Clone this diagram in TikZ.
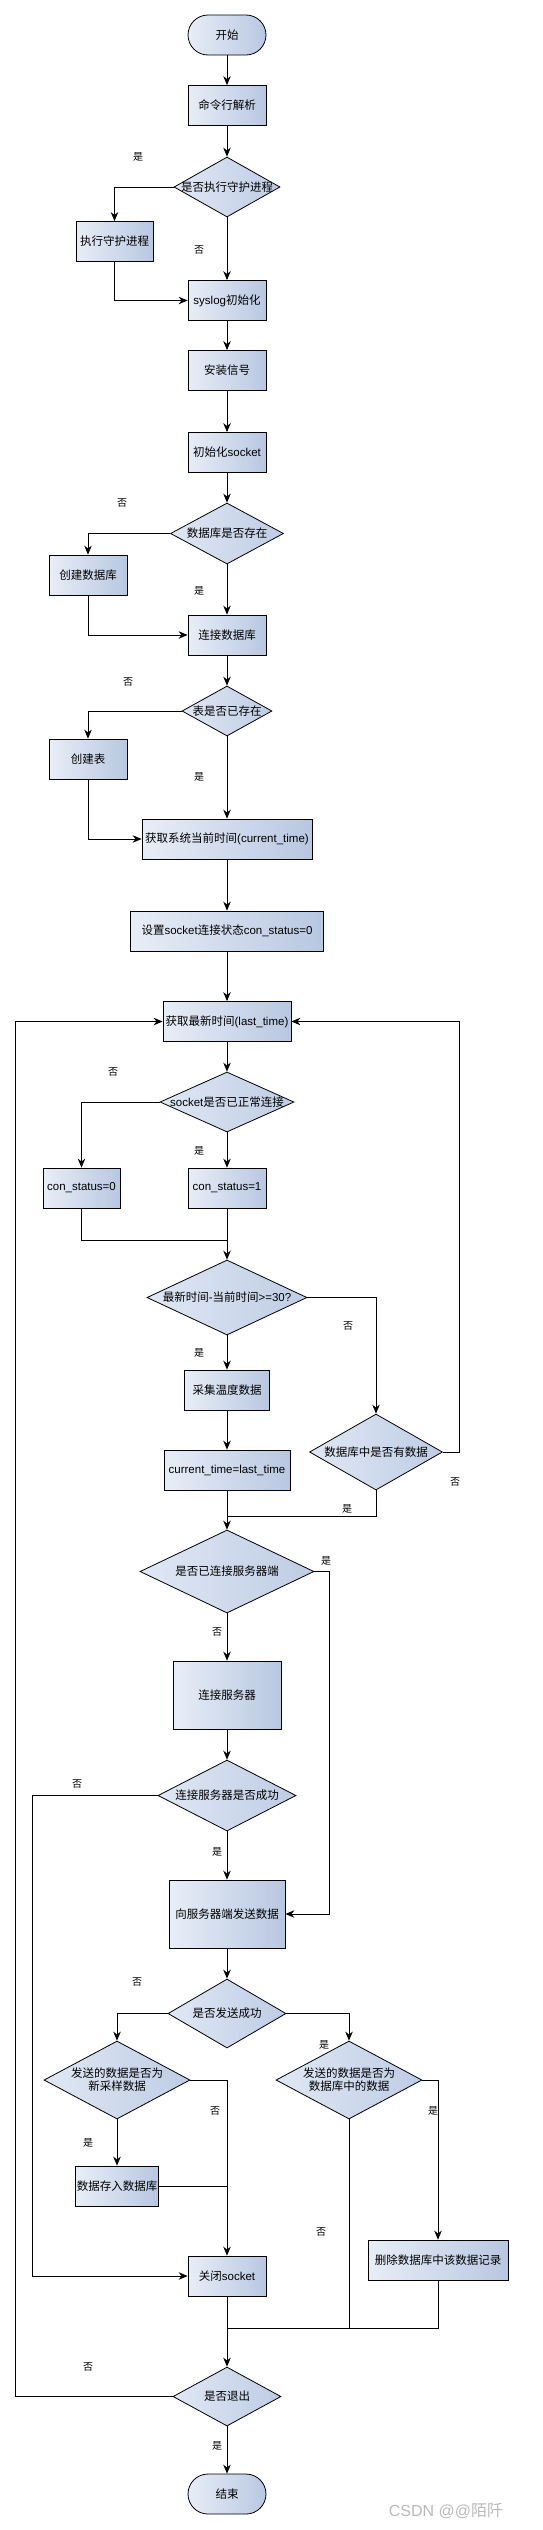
\documentclass[tikz,border=0pt]{standalone}
\usepackage{fontspec}
\setmainfont{Noto Sans CJK SC}
\newfontfamily\arialfont{Liberation Sans}
\newcommand\en[1]{{\arialfont #1}}
\usepackage{tikz}
\usetikzlibrary{arrows.meta,shapes.geometric}
\definecolor{boxl}{RGB}{232,238,247}
\definecolor{boxr}{RGB}{184,199,225}
\definecolor{decl}{RGB}{224,232,244}
\definecolor{decr}{RGB}{190,204,228}
\tikzset{
	proc/.style={draw, rectangle, left color=boxl, right color=boxr, minimum width=78, minimum height=40, inner sep=1pt},
	term/.style={proc, rounded corners=20},
	dec/.style={draw, diamond, left color=decl, right color=decr, inner sep=0pt},
	yn/.style={font=\fontsize{10}{12}\selectfont},
	arr/.style={-{Stealth[length=9pt,width=7.5pt]}}
}

\begin{document}
\begin{tikzpicture}[x=1pt, y=-1pt, line width=0.8pt, font=\fontsize{11.5}{13}\selectfont]
		%%%%% START %%%%%
		\useasboundingbox (0,0) rectangle (542,2530);
		
		\node[term] (start) at (227,35) {开始};
		\node[proc] (parse) at (227,105.5) {命令行解析};
		\node[dec, minimum width=106, minimum height=60, label=center:是否执行守护进程] (daemonq) at (227,187) {};
		\node[proc, minimum width=77] (daemon) at (114.5,241.5) {执行守护进程};
		\node[proc] (syslog) at (227,300.5) {\en{syslog}初始化};
		\node[proc] (signal) at (227,370.5) {安装信号};
		\node[proc] (sockinit) at (227,452.5) {初始化\en{socket}};
		
		\node[dec, minimum width=113, minimum height=61, label=center:数据库是否存在] (dbq) at (227,533.5) {};
		\node[proc] (mkdb) at (88,575) {创建数据库};
		\node[proc] (conndb) at (227,635) {连接数据库};
		\node[dec, minimum width=90, minimum height=50, label=center:表是否已存在] (tblq) at (227,711) {};
		\node[proc] (mktbl) at (88,759) {创建表};
		\node[proc, minimum width=170] (curtime) at (227,839) {获取系统当前时间\en{(current\_time)}};
		\node[proc, minimum width=193] (setstat) at (227,931) {设置\en{socket}连接状态\en{con\_status=0}};
		
		\node[proc, minimum width=128] (lasttime) at (227,1021.5) {获取最新时间\en{(last\_time)}};
		\node[dec, minimum width=134, minimum height=60, label={center:{\en{socket}是否已正常连接}}] (sockq) at (227,1102) {};
		\node[proc, minimum width=77] (st0) at (81.5,1188) {\en{con\_status=0}};
		\node[proc] (st1) at (227,1188) {\en{con\_status=1}};
		\node[dec, minimum width=160, minimum height=75, label={center:{最新时间\en{-}当前时间\en{>=30?}}}] (timeq) at (227,1297.5) {};
		\node[proc, minimum width=85] (collect) at (227,1390) {采集温度数据};
		\node[proc, minimum width=126] (update) at (227,1470) {\en{current\_time=last\_time}};
		\node[dec, minimum width=133, minimum height=76, label=center:数据库中是否有数据] (hasdb) at (376,1452) {};
		
		\node[dec, minimum width=174, minimum height=83, label=center:是否已连接服务器端] (srvq) at (227,1571.5) {};
		\node[proc, minimum width=108, minimum height=68] (connsrv) at (227,1695) {连接服务器};
		\node[dec, minimum width=138, minimum height=71, label=center:连接服务器是否成功] (okq) at (227,1795.5) {};
		\node[proc, minimum width=116, minimum height=68] (send) at (227,1914) {向服务器端发送数据};
		\node[dec, minimum width=118, minimum height=69, label=center:是否发送成功] (sentq) at (227,2013.5) {};
		\node[dec, minimum width=146, minimum height=78, label={[align=center]center:发送的数据是否为\\新采样数据}] (newq) at (117,2080) {};
		\node[dec, minimum width=146, minimum height=78, label={[align=center]center:发送的数据是否为\\数据库中的数据}] (oldq) at (349,2080) {};
		\node[proc] (store) at (117,2186) {数据存入数据库};
		\node[proc, minimum width=140] (delrec) at (438,2260) {删除数据库中该数据记录};
		\node[proc] (close) at (227,2276) {关闭\en{socket}};
		\node[dec, minimum width=108, minimum height=59, label=center:是否退出] (quitq) at (227,2396.5) {};
		\node[term] (stop) at (227,2494) {结束};
		
		\coordinate (j1) at (227,1240);
		\coordinate (j2) at (227,1516);
		\coordinate (j3) at (227,2328);
		\coordinate (rloop) at (459,1452);
		\coordinate (srvr) at (329,1571.5);
		\coordinate (okl) at (32,1795.5);
		\coordinate (lloop) at (15,2396.5);
		
		\draw[arr] (start) -- (parse);
		\draw[arr] (parse) -- (daemonq);
		\draw[arr] (daemonq.west) -| (daemon.north);
		\draw[arr] (daemonq) -- (syslog);
		\draw[arr] (daemon.south) |- (syslog.west);
		\draw[arr] (syslog) -- (signal);
		\draw[arr] (signal) -- (sockinit);
		\draw[arr] (sockinit) -- (dbq);
		\draw[arr] (dbq.west) -| (mkdb.north);
		\draw[arr] (dbq) -- (conndb);
		\draw[arr] (mkdb.south) |- (conndb.west);
		\draw[arr] (conndb) -- (tblq);
		\draw[arr] (tblq.west) -| (mktbl.north);
		\draw[arr] (tblq) -- (curtime);
		\draw[arr] (mktbl.south) |- (curtime.west);
		\draw[arr] (curtime) -- (setstat);
		\draw[arr] (setstat) -- (lasttime);
		
		\draw[arr] (lasttime) -- (sockq);
		\draw[arr] (sockq.west) -| (st0.north);
		\draw[arr] (sockq) -- (st1);
		\draw (st0.south) |- (j1);
		\draw[arr] (st1) -- (timeq);
		\draw[arr] (timeq.east) -| (hasdb.north);
		\draw[arr] (timeq) -- (collect);
		\draw[arr] (collect) -- (update);
		\draw[arr] (hasdb.east) -- (rloop) |- (lasttime.east);
		\draw (hasdb.south) |- (j2);
		\draw[arr] (update) -- (srvq);
		
		\draw[arr] (srvq.east) -- (srvr) |- (send.east);
		\draw[arr] (srvq) -- (connsrv);
		\draw[arr] (connsrv) -- (okq);
		\draw[arr] (okq) -- (send);
		\draw[arr] (okq.west) -- (okl) |- (close.west);
		\draw[arr] (send) -- (sentq);
		\draw[arr] (sentq.west) -| (newq.north);
		\draw[arr] (sentq.east) -| (oldq.north);
		\draw[arr] (newq) -- (store);
		\draw[arr] (newq.east) -| (close.north);
		\draw (store.east) -- (store.east -| close);
		\draw[arr] (oldq.east) -| (delrec.north);
		\draw (oldq.south) -- (oldq.south |- j3);
		\draw (delrec.south) |- (j3);
		\draw[arr] (close) -- (quitq);
		\draw[arr] (quitq.west) -- (lloop) |- (lasttime.west);
		\draw[arr] (quitq) -- (stop);
		
		\node[yn] (y1) at (138,157) {是};
		\node[yn] (n1) at (199,250) {否};
		\node[yn] (n2) at (122,503) {否};
		\node[yn] (y2) at (199,591) {是};
		\node[yn] (n3) at (128,682) {否};
		\node[yn] (y3) at (199,777) {是};
		\node[yn] (n4) at (113,1072) {否};
		\node[yn] (y4) at (199,1151) {是};
		\node[yn] (n5) at (348,1326) {否};
		\node[yn] (y5) at (199,1353) {是};
		\node[yn] (n6) at (455,1482) {否};
		\node[yn] (y6) at (347,1509) {是};
		\node[yn] (y7) at (326,1561) {是};
		\node[yn] (n7) at (217,1632) {否};
		\node[yn] (n8) at (77,1784) {否};
		\node[yn] (y8) at (217,1852) {是};
		\node[yn] (n9) at (137,1982) {否};
		\node[yn] (y9) at (324,2045) {是};
		\node[yn] (n10) at (215,2111) {否};
		\node[yn] (y10) at (88,2143) {是};
		\node[yn] (y11) at (433,2111) {是};
		\node[yn] (n11) at (321,2232) {否};
		\node[yn] (n12) at (88,2367) {否};
		\node[yn] (y12) at (217,2446) {是};
		
		\node[text=gray!55, font=\fontsize{16}{18}\selectfont] (mark) at (446,2511) {\en{CSDN @@}陌阡};
		%%%%% END %%%%%
\end{tikzpicture}
\end{document}
